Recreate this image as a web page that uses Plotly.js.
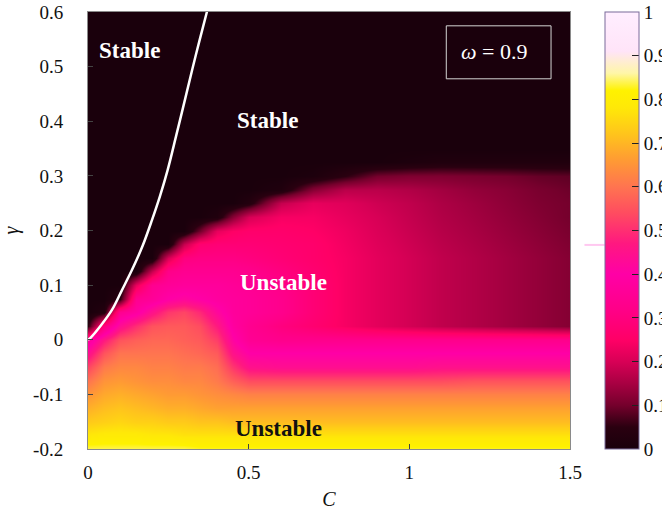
<!DOCTYPE html>
<html>
<head>
<meta charset="utf-8">
<script src="https://cdn.plot.ly/plotly-3.0.1.min.js"></script>
<style>html,body{margin:0;padding:0;background:#fff;}#chart{width:662px;height:510px;}</style>
</head>
<body>
<div id="chart"></div>
<script>
// Grid of coupling C (x) and gamma (y)
const C_GRID = [0, 0.05, 0.1, 0.15, 0.2, 0.25, 0.3, 0.35, 0.4, 0.45, 0.5, 0.6, 0.7, 0.8, 0.9, 1.0, 1.1, 1.2, 1.3, 1.4, 1.5];
const GAMMA_GRID = [-0.2, -0.175, -0.15, -0.125, -0.1, -0.075, -0.05, -0.025, 0, 0.025, 0.05, 0.075, 0.1, 0.125, 0.15, 0.175, 0.2, 0.225, 0.25, 0.275, 0.3, 0.325, 0.35, 0.6];

// Growth-rate values (rows follow GAMMA_GRID, columns follow C_GRID)
const Z_ROWS = [
  [0.84,0.84,0.84,0.84,0.84,0.84,0.84,0.83,0.83,0.83,0.83,0.83,0.83,0.83,0.83,0.83,0.83,0.83,0.83,0.83,0.83],
  [0.78,0.79,0.79,0.79,0.78,0.78,0.77,0.77,0.77,0.77,0.77,0.77,0.77,0.77,0.77,0.77,0.77,0.77,0.77,0.77,0.77],
  [0.73,0.74,0.75,0.74,0.74,0.73,0.73,0.72,0.72,0.71,0.71,0.71,0.71,0.71,0.71,0.71,0.71,0.71,0.71,0.71,0.71],
  [0.69,0.71,0.72,0.71,0.70,0.69,0.69,0.68,0.67,0.67,0.67,0.67,0.67,0.67,0.67,0.67,0.67,0.67,0.67,0.67,0.67],
  [0.65,0.68,0.69,0.68,0.67,0.66,0.66,0.65,0.64,0.63,0.62,0.62,0.62,0.62,0.62,0.62,0.62,0.62,0.62,0.62,0.62],
  [0.60,0.65,0.66,0.65,0.64,0.64,0.63,0.63,0.61,0.57,0.54,0.54,0.54,0.54,0.54,0.54,0.54,0.55,0.55,0.55,0.55],
  [0.53,0.61,0.63,0.63,0.62,0.62,0.61,0.61,0.59,0.51,0.45,0.44,0.44,0.44,0.44,0.44,0.45,0.45,0.45,0.45,0.45],
  [0.44,0.55,0.60,0.60,0.60,0.60,0.59,0.58,0.56,0.45,0.40,0.40,0.40,0.40,0.40,0.40,0.40,0.40,0.40,0.40,0.40],
  [0.36,0.47,0.55,0.57,0.58,0.58,0.57,0.56,0.52,0.41,0.35,0.33,0.33,0.33,0.33,0.33,0.33,0.33,0.33,0.33,0.33],
  [0.05,0.30,0.44,0.50,0.55,0.56,0.56,0.54,0.47,0.38,0.34,0.30,0.27,0.24,0.215,0.195,0.175,0.16,0.145,0.13,0.115],
  [0,0.03,0.34,0.38,0.45,0.51,0.53,0.49,0.42,0.37,0.36,0.33,0.28,0.24,0.215,0.195,0.175,0.16,0.145,0.13,0.115],
  [0,0,0.05,0.34,0.36,0.40,0.42,0.40,0.38,0.37,0.36,0.33,0.28,0.24,0.215,0.195,0.175,0.16,0.145,0.13,0.115],
  [0,0,0,0.22,0.34,0.36,0.37,0.37,0.37,0.36,0.35,0.32,0.28,0.24,0.215,0.195,0.175,0.16,0.145,0.13,0.115],
  [0,0,0,0,0.18,0.32,0.34,0.34,0.34,0.34,0.33,0.30,0.27,0.24,0.215,0.195,0.175,0.16,0.145,0.13,0.115],
  [0,0,0,0,0,0.20,0.30,0.31,0.31,0.31,0.30,0.28,0.26,0.24,0.215,0.195,0.175,0.16,0.145,0.13,0.115],
  [0,0,0,0,0,0,0.18,0.27,0.28,0.28,0.28,0.27,0.26,0.235,0.21,0.19,0.17,0.155,0.14,0.125,0.11],
  [0,0,0,0,0,0,0,0.10,0.22,0.25,0.26,0.26,0.25,0.23,0.205,0.185,0.165,0.15,0.135,0.12,0.105],
  [0,0,0,0,0,0,0,0,0.02,0.12,0.20,0.24,0.24,0.22,0.20,0.18,0.16,0.145,0.13,0.115,0.10],
  [0,0,0,0,0,0,0,0,0,0,0.03,0.18,0.22,0.21,0.19,0.175,0.155,0.14,0.125,0.11,0.10],
  [0,0,0,0,0,0,0,0,0,0,0,0.02,0.12,0.17,0.17,0.16,0.145,0.13,0.12,0.105,0.095],
  [0,0,0,0,0,0,0,0,0,0,0,0,0.01,0.05,0.10,0.11,0.11,0.105,0.10,0.09,0.085],
  [0,0,0,0,0,0,0,0,0,0,0,0,0,0,0,0.01,0.02,0.02,0.02,0.02,0.02],
  [0,0,0,0,0,0,0,0,0,0,0,0,0,0,0,0,0,0,0,0,0],
  [0,0,0,0,0,0,0,0,0,0,0,0,0,0,0,0,0,0,0,0,0]
];

// White stability boundary curve
const CURVE_C = [0, 0.007, 0.04, 0.075, 0.105, 0.137, 0.17, 0.199, 0.224, 0.248, 0.275, 0.302, 0.335, 0.37, 0.375];
const CURVE_GAMMA = [0, 0.003, 0.026, 0.055, 0.09, 0.128, 0.172, 0.219, 0.263, 0.311, 0.375, 0.44, 0.52, 0.6, 0.612];

// Axis ticks
const X_TICKS = [0, 0.5, 1, 1.5];
const X_TICK_TEXT = ['0', '0.5', '1', '1.5'];
const Y_TICKS = [-0.2, -0.1, 0, 0.1, 0.2, 0.3, 0.4, 0.5, 0.6];
const Y_TICK_TEXT = ['-0.2', '-0.1', '0', '0.1', '0.2', '0.3', '0.4', '0.5', '0.6'];
const CB_TICKS = [0, 0.1, 0.2, 0.3, 0.4, 0.5, 0.6, 0.7, 0.8, 0.9, 1];
const CB_TICK_TEXT = ['0', '0.1', '0.2', '0.3', '0.4', '0.5', '0.6', '0.7', '0.8', '0.9', '1'];

const SERIF = "'Liberation Serif', 'Times New Roman', serif";

const colorscale = [
  [0, '#1a000c'], [0.05, '#2a0010'], [0.1, '#75002c'], [0.15, '#a80042'],
  [0.2, '#d80056'], [0.25, '#ff0066'], [0.32, '#ff0088'], [0.4, '#ff00a6'],
  [0.47, '#ff1880'], [0.54, '#ff4c60'], [0.6, '#ff7450'], [0.66, '#ff9a34'],
  [0.72, '#ffc41c'], [0.78, '#ffe808'], [0.82, '#fff200'], [0.86, '#fff6a8'],
  [0.91, '#ffe4f8'], [1, '#ffeeff']
];

const heat = {
  type: 'heatmap',
  x: C_GRID, y: GAMMA_GRID, z: Z_ROWS,
  zmin: 0, zmax: 1, zsmooth: 'best',
  colorscale: colorscale,
  hoverinfo: 'skip',
  colorbar: {
    x: 1.0726, xanchor: 'left', xref: 'paper', xpad: 0,
    y: 0, yanchor: 'bottom', ypad: 0, len: 1, lenmode: 'fraction',
    thickness: 34, thicknessmode: 'pixels',
    outlinewidth: 1, outlinecolor: '#7a6a9a',
    tickmode: 'array', tickvals: CB_TICKS, ticktext: CB_TICK_TEXT,
    ticks: 'inside', ticklen: 7, tickcolor: '#222', tickwidth: 1,
    tickfont: {family: SERIF, size: 19, color: '#111'}
  }
};

const curve = {
  type: 'scatter', mode: 'lines',
  x: CURVE_C, y: CURVE_GAMMA,
  line: {color: '#ffffff', width: 2.5, shape: 'spline'},
  hoverinfo: 'skip', showlegend: false
};

const annFont = (c) => ({family: SERIF, size: 23, color: c, weight: 'bold'});

const layout = {
  width: 662, height: 510,
  margin: {l: 88, r: 92, t: 12, b: 61, pad: 0, autoexpand: false},
  paper_bgcolor: '#ffffff', plot_bgcolor: '#1a000c',
  showlegend: false,
  xaxis: {
    range: [0, 1.5], tickmode: 'array', tickvals: X_TICKS, ticktext: X_TICK_TEXT,
    ticks: 'inside', ticklen: 5, tickcolor: '#444', showgrid: false, zeroline: false,
    showline: true, mirror: true, linecolor: '#8a8a8a', linewidth: 1,
    tickfont: {family: SERIF, size: 19, color: '#111'}, ticklabelstandoff: 6,
    title: {text: '<i>C</i>', font: {family: SERIF, size: 20, color: '#111'}, standoff: 12}
  },
  yaxis: {
    range: [-0.2, 0.6], tickmode: 'array', tickvals: Y_TICKS, ticktext: Y_TICK_TEXT,
    ticks: 'inside', ticklen: 5, tickcolor: '#444', showgrid: false, zeroline: false,
    showline: true, mirror: true, linecolor: '#8a8a8a', linewidth: 1,
    tickfont: {family: SERIF, size: 19, color: '#111'}, ticklabelstandoff: 20,
    title: {text: '<i>γ</i>', font: {family: SERIF, size: 20, color: '#111'}, standoff: 18}
  },
  annotations: [
    {x: 0.129, y: 0.530, text: 'Stable', showarrow: false, font: annFont('#ffffff')},
    {x: 0.560, y: 0.402, text: 'Stable', showarrow: false, font: annFont('#ffffff')},
    {x: 0.607, y: 0.104, text: 'Unstable', showarrow: false, font: annFont('#ffffff')},
    {x: 0.594, y: -0.162, text: 'Unstable', showarrow: false, font: annFont('#111111')},
    {x: 1.155, y: 0.5286, xanchor: 'left', text: '<i>ω</i> = 0.9', showarrow: false,
     font: {family: SERIF, size: 22, color: '#ffffff'}}
  ],
  shapes: [
    {type: 'rect', xref: 'x', yref: 'y', x0: 1.115, x1: 1.441, y0: 0.4777, y1: 0.5747,
     line: {color: '#d4d4d4', width: 1}, fillcolor: 'rgba(0,0,0,0)'},
    {type: 'line', xref: 'paper', yref: 'paper', x0: 1.03, x1: 1.072, y0: 0.467, y1: 0.467,
     line: {color: '#ffc8f0', width: 2}}
  ]
};

Plotly.newPlot('chart', [heat, curve], layout, {displayModeBar: false, staticPlot: true});
</script>
</body>
</html>
